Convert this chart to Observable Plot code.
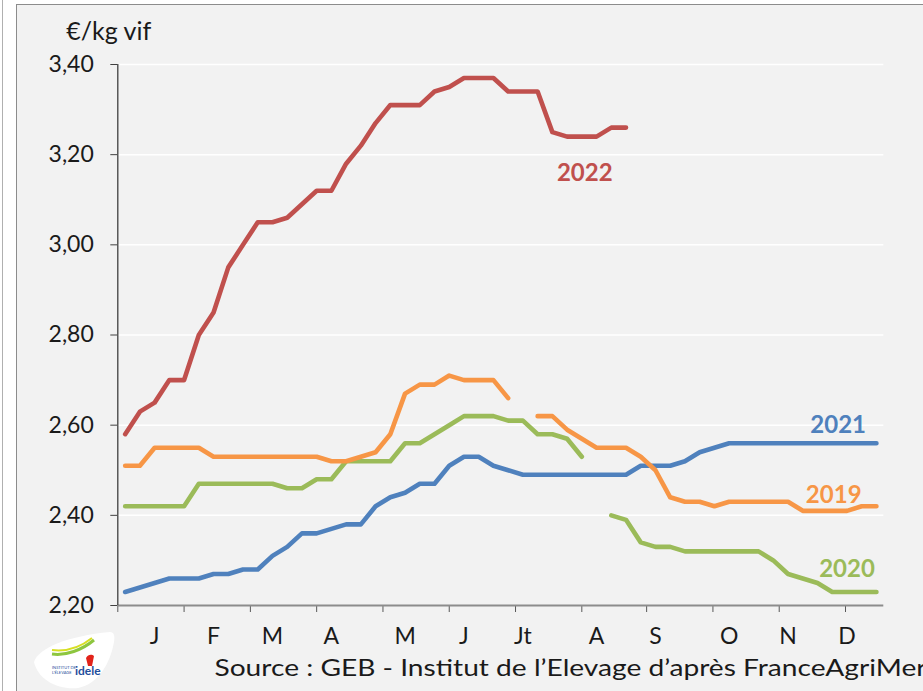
<!DOCTYPE html>
<html>
<head>
<meta charset="utf-8">
<script src="https://cdn.jsdelivr.net/npm/d3@7"></script>
<script src="https://cdn.jsdelivr.net/npm/@observablehq/plot@0.6"></script>
<style>
  html, body { margin: 0; padding: 0; background: #ffffff; overflow: hidden; }
  #wrap { position: relative; width: 923px; height: 691px; overflow: hidden; }
  #edge { position: absolute; left: 2px; top: 0; width: 1px; height: 691px; background: #b0b0b0; }
  #panel { position: absolute; left: 16px; top: 4px; width: 930px; height: 720px;
           background: #f2f2f2; border: 1.5px solid #8c8c8c; box-sizing: border-box; }
  #chart { position: absolute; left: 0; top: 0; }
  #logo { position: absolute; left: 28px; top: 628px; }
</style>
</head>
<body>
<div id="wrap">
  <div id="edge"></div>
  <div id="panel"></div>
  <div id="chart"></div>
  <svg id="logo" width="92" height="64" viewBox="0 0 92 64">
    <path d="M6 34 C 10 20, 40 8, 82 4 C 86 4, 87 8, 86 14 C 82 36, 70 56, 50 60 C 30 62, 10 52, 6 34 Z" fill="#ffffff"/>
    <path d="M24 26 C 38 28, 54 22, 66 12" stroke="#8dc63f" stroke-width="3" fill="none"/>
    <path d="M24 22 C 40 24, 54 18, 64 10" stroke="#d7df23" stroke-width="2" fill="none"/>
    <path d="M58 30 C 60 26, 64 26, 66 28 L 64 38 L 60 38 Z" fill="#e2231a"/>
    <text x="24" y="41" font-family="Lato, sans-serif" font-size="4" fill="#1f4e9c">INSTITUT DE</text>
    <text x="24" y="46" font-family="Lato, sans-serif" font-size="4" fill="#1f4e9c">L'ÉLEVAGE</text>
    <text x="47" y="47" font-family="Lato, sans-serif" font-weight="bold" font-size="12" fill="#1f4e9c">idele</text>
  </svg>
</div>
<script>
// ---- data ----
const weeks = d3.range(52);
const years = ["2019", "2020", "2021", "2022"];
const colors = ["#f79646", "#9bbb59", "#4f81bd", "#c0504d"];

const v2019 = [2.51,2.51,2.55,2.55,2.55,2.55,2.53,2.53,2.53,2.53,2.53,2.53,2.53,2.53,2.52,2.52,2.53,2.54,2.58,2.67,2.69,2.69,2.71,2.70,2.70,2.70,2.66,null,2.62,2.62,2.59,2.57,2.55,2.55,2.55,2.53,2.50,2.44,2.43,2.43,2.42,2.43,2.43,2.43,2.43,2.43,2.41,2.41,2.41,2.41,2.42,2.42];
const v2020 = [2.42,2.42,2.42,2.42,2.42,2.47,2.47,2.47,2.47,2.47,2.47,2.46,2.46,2.48,2.48,2.52,2.52,2.52,2.52,2.56,2.56,2.58,2.60,2.62,2.62,2.62,2.61,2.61,2.58,2.58,2.57,2.53,null,2.40,2.39,2.34,2.33,2.33,2.32,2.32,2.32,2.32,2.32,2.32,2.30,2.27,2.26,2.25,2.23,2.23,2.23,2.23];
const v2021 = [2.23,2.24,2.25,2.26,2.26,2.26,2.27,2.27,2.28,2.28,2.31,2.33,2.36,2.36,2.37,2.38,2.38,2.42,2.44,2.45,2.47,2.47,2.51,2.53,2.53,2.51,2.50,2.49,2.49,2.49,2.49,2.49,2.49,2.49,2.49,2.51,2.51,2.51,2.52,2.54,2.55,2.56,2.56,2.56,2.56,2.56,2.56,2.56,2.56,2.56,2.56,2.56];
const v2022 = [2.58,2.63,2.65,2.70,2.70,2.80,2.85,2.95,3.00,3.05,3.05,3.06,3.09,3.12,3.12,3.18,3.22,3.27,3.31,3.31,3.31,3.34,3.35,3.37,3.37,3.37,3.34,3.34,3.34,3.25,3.24,3.24,3.24,3.26,3.26];
const seriesValues = [v2019, v2020, v2021, v2022];

// series label anchors (week, value)
const labelWeeks = [48.1, 49.0, 48.4, 31.2];
const labelValues = [2.445, 2.281, 2.60, 3.158];

const months = ["J","F","M","A","M","J","Jt","A","S","O","N","D"];
const monthWeeks = [2, 6, 10, 14, 19, 23, 27, 32, 36, 41, 45, 49];
const monthTickWeeks = [-0.5, 4, 8.5, 13, 17.5, 22, 26.5, 31, 35.4, 39.9, 44.4, 48.9];
const yTicks = [2.2, 2.4, 2.6, 2.8, 3.0, 3.2, 3.4];

const unitLabel = "€/kg vif";
const sourceText = "Source : GEB - Institut de l’Elevage d’après FranceAgriMer";

// ---- build tables ----
const rows = seriesValues.map((vals, s) =>
  vals.map((v, i) => ({year: years[s], week: weeks[i], value: v}))
);
const labels = years.map((y, i) => ({year: y, week: labelWeeks[i], value: labelValues[i], color: colors[i]}));

const drawOrder = [2, 1, 0, 3]; // 2021, 2020, 2019, 2022

const fmt = d => d.toFixed(2).replace(".", ",");

const chart = Plot.plot({
  width: 923,
  height: 691,
  marginLeft: 117.3,
  marginRight: 39.7,
  marginTop: 64,
  marginBottom: 86,
  style: {background: "transparent", fontFamily: "Lato, sans-serif", color: "#1a1a1a", overflow: "visible"},
  x: {domain: [-0.5, 51.5]},
  y: {domain: [2.2, 3.4]},
  marks: [
    Plot.gridY(yTicks.filter(d => d > 2.2), {stroke: "#ffffff", strokeOpacity: 1, strokeWidth: 1.5}),
    Plot.axisY({ticks: yTicks, tickFormat: fmt, tickSize: 7, tickPadding: 17, fontSize: 23, stroke: "#404040", label: null}),
    Plot.axisX({ticks: monthTickWeeks, tickSize: 7, tickFormat: () => "", stroke: "#595959", label: null}),
    Plot.axisX({ticks: monthWeeks, tickSize: 0, tickPadding: 22, fontSize: 23,
      tickFormat: d => months[monthWeeks.indexOf(d)], label: null}),
    Plot.ruleY([2.2], {stroke: "#8c8c8c", strokeWidth: 2}),
    Plot.ruleX([-0.5], {y1: 2.2, y2: 3.4, stroke: "#404040", strokeWidth: 1.3}),
    ...drawOrder.map(s => Plot.line(rows[s], {
      x: "week", y: "value", stroke: colors[s], strokeWidth: 4.6,
      strokeLinecap: "round", strokeLinejoin: "round"
    })),
    Plot.text(labels, {x: "week", y: "value", text: "year", fill: "color",
      fontWeight: "bold", fontSize: 24, lineAnchor: "middle"}),
    Plot.text([unitLabel], {frameAnchor: "top-left", dx: -51.6, dy: -25,
      textAnchor: "start", lineAnchor: "bottom", fontSize: 25}),
    Plot.text([sourceText], {frameAnchor: "bottom-left", dx: 96.7, dy: 70,
      textAnchor: "start", lineAnchor: "bottom", fontSize: 24})
  ]
});

document.getElementById("chart").appendChild(chart);

d3.select(chart).selectAll("text")
  .filter(function() { return this.textContent === sourceText; })
  .attr("textLength", 712)
  .attr("lengthAdjust", "spacingAndGlyphs");
</script>
</body>
</html>
